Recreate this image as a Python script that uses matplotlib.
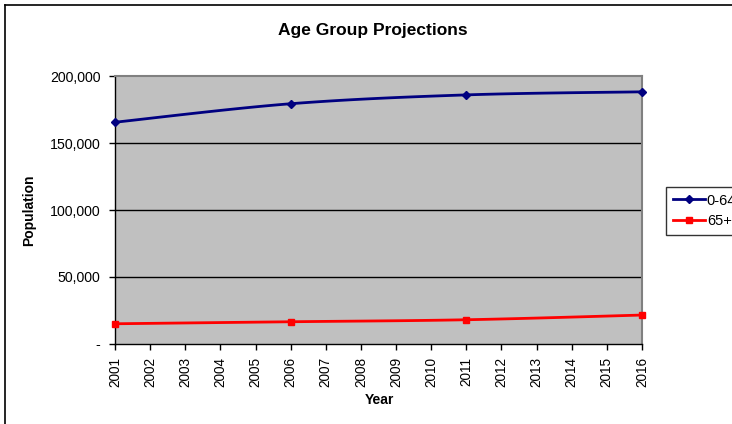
import numpy as np
import matplotlib
matplotlib.use("Agg")
import matplotlib.pyplot as plt
from matplotlib.lines import Line2D
from matplotlib.ticker import FuncFormatter

plt.rcParams['font.family'] = ['Liberation Sans', 'DejaVu Sans']

# Projection data
years = [2001, 2002, 2003, 2004, 2005, 2006, 2007, 2008,
         2009, 2010, 2011, 2012, 2013, 2014, 2015, 2016]
census_years = [2001, 2006, 2011, 2016]
age_0_64 = [165500, 179300, 185900, 188200]
age_65_plus = [15100, 16600, 18100, 21600]
series_labels = ["0-64", "65+"]
y_ticks = [0, 50000, 100000, 150000, 200000]


def smooth(xs, ys, n=30):
    """Catmull-Rom style cubic Bezier smoothing through the points."""
    xs = np.asarray(xs, float)
    ys = np.asarray(ys, float)
    px = np.concatenate([[xs[0]], xs, [xs[-1]]])
    py = np.concatenate([[ys[0]], ys, [ys[-1]]])
    outx, outy = [], []
    t = np.linspace(0, 1, n)
    for i in range(1, len(px) - 2):
        p0 = np.array([px[i - 1], py[i - 1]])
        p1 = np.array([px[i], py[i]])
        p2 = np.array([px[i + 1], py[i + 1]])
        p3 = np.array([px[i + 2], py[i + 2]])
        c1 = p1 + (p2 - p0) / 6.0
        c2 = p2 - (p3 - p1) / 6.0
        b = ((1 - t) ** 3)[:, None] * p1 + (3 * (1 - t) ** 2 * t)[:, None] * c1 \
            + (3 * (1 - t) * t ** 2)[:, None] * c2 + (t ** 3)[:, None] * p2
        outx.extend(b[:, 0])
        outy.extend(b[:, 1])
    return np.array(outx), np.array(outy)


W, H = 732, 424
fig = plt.figure(figsize=(W / 100, H / 100), dpi=100)
fig.patch.set_facecolor('white')

# chart frame (left and top edges)
fig.add_artist(Line2D([4.5 / W, 4.5 / W], [0, 1 - 4.5 / H], color='black', lw=1.2,
                      transform=fig.transFigure))
fig.add_artist(Line2D([4.5 / W, 1], [1 - 4.5 / H, 1 - 4.5 / H], color='black', lw=1.2,
                      transform=fig.transFigure))

ax = fig.add_axes([115 / W, 1 - 344 / H, (642 - 115) / W, (344 - 76) / H])
ax.set_facecolor('#C0C0C0')

ax.set_xlim(years[0], years[-1])
ax.set_ylim(0, 200000)
ax.set_xticks(years)
ax.set_xticklabels([str(y) for y in years], rotation=90, fontsize=9.8)
ax.set_yticks(y_ticks)
ax.yaxis.set_major_formatter(FuncFormatter(lambda v, p: '-' if v == 0 else f"{int(v):,}"))
ax.tick_params(axis='y', labelsize=10.2, length=4.5, width=1, pad=6, direction='out')
ax.tick_params(axis='x', length=4.5, width=1, pad=5, direction='out')

for v in y_ticks[1:-1]:
    ax.axhline(v, color='black', lw=1, zorder=1)

for side in ['top', 'right']:
    ax.spines[side].set_color('#808080')
    ax.spines[side].set_linewidth(1.5)
for side in ['left', 'bottom']:
    ax.spines[side].set_color('black')
    ax.spines[side].set_linewidth(1)

colors = ['#000080', '#FF0000']
markers = ['D', 's']
msizes = [4.5, 5]
for vals, c, m, ms, lab in zip([age_0_64, age_65_plus], colors, markers, msizes, series_labels):
    sx, sy = smooth(census_years, vals)
    ax.plot(sx, sy, color=c, lw=2, zorder=3, solid_capstyle='round')
    ax.plot(census_years, vals, linestyle='none', marker=m, color=c, ms=ms, zorder=4,
            clip_on=False)

handles = [Line2D([], [], color=c, lw=2, marker=m, ms=ms)
           for c, m, ms in zip(colors, markers, msizes)]
leg = fig.legend(handles, series_labels, loc='upper left',
                 bbox_to_anchor=(666 / W, 1 - 187 / H), fontsize=10.5,
                 frameon=True, fancybox=False, handlelength=2.2, handletextpad=0.15,
                 labelspacing=0.45, borderpad=0.45, borderaxespad=0)
leg.get_frame().set_edgecolor('black')
leg.get_frame().set_linewidth(1)

fig.text(373 / W, 1 - 30 / H, "Age Group Projections", ha='center', va='center',
         fontsize=12.5, fontweight='bold')
fig.text(379 / W, 1 - 400 / H, "Year", ha='center', va='center',
         fontsize=10, fontweight='bold')
fig.text(29 / W, 1 - 210 / H, "Population", ha='center', va='center', rotation=90,
         fontsize=10, fontweight='bold')

fig.savefig("out.png", dpi=100)
